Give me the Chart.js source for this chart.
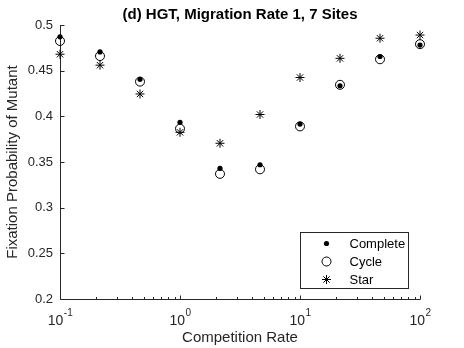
<!DOCTYPE html>
<html><head><meta charset="utf-8">
<script src="https://cdn.jsdelivr.net/npm/chart.js@4"></script>
<style>body{margin:0;background:#fff}canvas{display:block}</style>
</head><body>
<canvas id="c" width="464" height="348"></canvas>
<script>
const competitionRate = [0.1, 0.2154, 0.4642, 1, 2.154, 4.642, 10, 21.54, 46.42, 100];
const completeValues = [0.487, 0.4705, 0.4405, 0.3935, 0.343, 0.347, 0.3915, 0.4335, 0.4655, 0.478];
const cycleValues = [0.4825, 0.466, 0.438, 0.3865, 0.337, 0.342, 0.389, 0.4345, 0.4625, 0.479];
const starValues = [0.468, 0.456, 0.4245, 0.3825, 0.3705, 0.402, 0.4425, 0.4635, 0.4855, 0.489];
const seriesNames = ['Complete', 'Cycle', 'Star'];
const xTicks = [0.1, 1, 10, 100];
const xTickBase = '10';
const xTickExps = ['-1', '0', '1', '2'];
const yTicks = [0.2, 0.25, 0.3, 0.35, 0.4, 0.45, 0.5];
const yTickLabels = ['0.2', '0.25', '0.3', '0.35', '0.4', '0.45', '0.5'];
const titleText = '(d) HGT, Migration Rate 1, 7 Sites';
const xTitle = 'Competition Rate';
const yTitle = 'Fixation Probability of Mutant';

const FONT = "'Liberation Sans', Arial, Helvetica, sans-serif";
const AX = '#262626';

function pts(vals) { return competitionRate.map((x, i) => ({x: x, y: vals[i]})); }

function drawMarker(ctx, kind, x, y) {
  ctx.save();
  ctx.strokeStyle = '#000'; ctx.fillStyle = '#000'; ctx.lineWidth = 1;
  if (kind === 0) { ctx.beginPath(); ctx.arc(x, y, 2.6, 0, Math.PI * 2); ctx.fill(); }
  else if (kind === 1) { ctx.beginPath(); ctx.arc(x, y, 4.5, 0, Math.PI * 2); ctx.stroke(); }
  else {
    const r = 4.5, d = r * Math.SQRT1_2;
    ctx.beginPath();
    ctx.moveTo(x, y - r); ctx.lineTo(x, y + r);
    ctx.moveTo(x - r, y); ctx.lineTo(x + r, y);
    ctx.moveTo(x - d, y - d); ctx.lineTo(x + d, y + d);
    ctx.moveTo(x - d, y + d); ctx.lineTo(x + d, y - d);
    ctx.stroke();
  }
  ctx.restore();
}

const deco = {
  id: 'deco',
  beforeDatasetsDraw(chart) {
    const {ctx, chartArea: a, scales: {x, y}} = chart;
    ctx.save();
    ctx.strokeStyle = AX; ctx.lineWidth = 1;
    ctx.beginPath();
    const L = Math.round(a.left) + 0.5, B = Math.round(a.bottom) + 0.5;
    ctx.moveTo(L, Math.round(a.top)); ctx.lineTo(L, B); ctx.lineTo(Math.round(a.right) + 0.5, B);
    yTicks.forEach(v => { const py = Math.round(y.getPixelForValue(v)) + 0.5; ctx.moveTo(L, py); ctx.lineTo(L + 4, py); });
    xTicks.forEach((v, i) => {
      const px = Math.round(x.getPixelForValue(v)) + 0.5;
      ctx.moveTo(px, B); ctx.lineTo(px, B - 4);
      if (i < xTicks.length - 1) {
        for (let k = 2; k <= 9; k++) {
          const mx = Math.round(x.getPixelForValue(v * k)) + 0.5;
          ctx.moveTo(mx, B); ctx.lineTo(mx, B - 2.5);
        }
      }
    });
    ctx.stroke();
    ctx.fillStyle = AX; ctx.textBaseline = 'middle'; ctx.textAlign = 'left';
    xTicks.forEach((v, i) => {
      const px = x.getPixelForValue(v);
      ctx.font = '14px ' + FONT; const wb = ctx.measureText(xTickBase).width;
      ctx.font = '10px ' + FONT; const we = ctx.measureText(xTickExps[i]).width;
      const s = px - (wb + we) / 2;
      ctx.font = '14px ' + FONT; ctx.fillText(xTickBase, s, a.bottom + 22);
      ctx.font = '10px ' + FONT; ctx.fillText(xTickExps[i], s + wb + 0.5, a.bottom + 14);
    });
    ctx.restore();
  },
  afterDraw(chart) {
    const {ctx, chartArea: a} = chart;
    const w = 108, h = 56;
    const bx = Math.round(a.right - 12 - w) + 0.5, by = Math.round(a.bottom - 11 - h) + 0.5;
    ctx.save();
    ctx.fillStyle = '#fff'; ctx.fillRect(bx, by, w, h);
    ctx.strokeStyle = AX; ctx.lineWidth = 1; ctx.strokeRect(bx, by, w, h);
    ctx.font = '13px ' + FONT; ctx.fillStyle = '#000'; ctx.textBaseline = 'middle'; ctx.textAlign = 'left';
    chart.data.datasets.forEach((ds, i) => {
      const yy = by + 11 + i * 18;
      drawMarker(ctx, i, bx + 26, yy);
      ctx.fillText(ds.label, bx + 49, yy + 0.5);
    });
    ctx.restore();
  }
};

const markerPlugin = {
  id: 'markers',
  afterDatasetsDraw(chart) {
    const {ctx} = chart;
    chart.data.datasets.forEach((ds, i) => {
      const meta = chart.getDatasetMeta(i);
      meta.data.forEach(el => drawMarker(ctx, i, el.x, el.y));
    });
  }
};

new Chart(document.getElementById('c'), {
  type: 'scatter',
  data: {
    datasets: [
      {label: seriesNames[0], data: pts(completeValues), pointRadius: 0, showLine: false, clip: false},
      {label: seriesNames[1], data: pts(cycleValues), pointRadius: 0, showLine: false, clip: false},
      {label: seriesNames[2], data: pts(starValues), pointRadius: 0, showLine: false, clip: false}
    ]
  },
  options: {
    responsive: false,
    animation: false,
    layout: {padding: {left: 0, right: 44, top: 0, bottom: 0}},
    plugins: {
      legend: {display: false},
      tooltip: {enabled: false},
      title: {display: true, fullSize: false, text: titleText, color: '#000', font: {family: FONT, size: 15, weight: 'bold'}, padding: {top: 6, bottom: 1}}
    },
    scales: {
      x: {
        type: 'logarithmic', min: 0.1, max: 100,
        grid: {display: false}, border: {display: false},
        ticks: {display: false},
        afterBuildTicks: s => { s.ticks = xTicks.map(v => ({value: v})); },
        afterFit: s => { s.height = 49; },
        title: {display: true, text: xTitle, color: AX, font: {family: FONT, size: 15}, padding: {top: 0, bottom: 1}}
      },
      y: {
        type: 'linear', min: 0.2, max: 0.5,
        grid: {display: false, drawTicks: false}, border: {display: false},
        afterBuildTicks: s => { s.ticks = yTicks.map(v => ({value: v})); },
        ticks: {color: AX, font: {family: FONT, size: 13}, padding: 7,
          callback: (v) => { const i = yTicks.findIndex(t => Math.abs(t - v) < 1e-9); return i >= 0 ? yTickLabels[i] : ''; }},
        afterFit: s => { s.width = 60; },
        title: {display: true, text: yTitle, color: AX, font: {family: FONT, size: 15}, padding: {top: 4, bottom: 0}}
      }
    }
  },
  plugins: [deco, markerPlugin]
});
</script>
</body></html>
